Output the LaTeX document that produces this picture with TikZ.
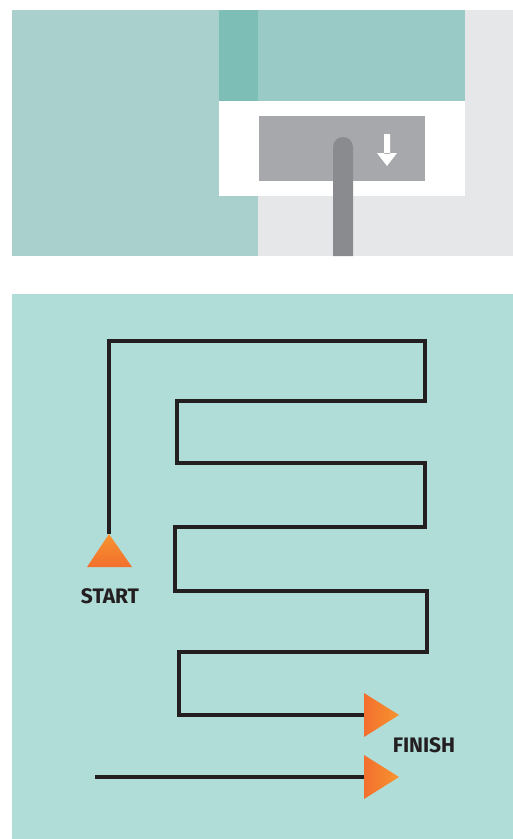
\documentclass[tikz,border=0pt]{standalone}
\usepackage{fontspec}
\setmainfont{Fira Sans}
\usetikzlibrary{calc}
\definecolor{tealA}{HTML}{AAD0CD}
\definecolor{tealB}{HTML}{7DBFB7}
\definecolor{tealC}{HTML}{9ACAC6}
\definecolor{greyBg}{HTML}{E6E7E9}
\definecolor{greyRect}{HTML}{A7A8AB}
\definecolor{greyHandle}{HTML}{8A8B8F}
\definecolor{mazeBg}{HTML}{B0DDD8}
\definecolor{orDark}{HTML}{F26F2E}
\definecolor{orLight}{HTML}{F7942F}
\definecolor{ink}{HTML}{231F20}
\tikzset{
  mazeline/.style={draw=ink, line width=3.4pt, line join=miter},
  lbl/.style={font=\bfseries\fontsize{21}{24}\selectfont, text=ink, inner sep=0pt},
}
\begin{document}
\begin{tikzpicture}[x=1pt,y=-1pt]
\useasboundingbox (0,0) rectangle (513,839);
\fill[white] (0,0) rectangle (513,839);
% top panel
\fill[greyBg] (12,10) rectangle (513,256);
\fill[tealA] (12,10) rectangle (258,256);
\fill[tealC] (258,10) rectangle (465,101);
\fill[tealB] (219,10) rectangle (258,101);
\fill[white] (219,101) rectangle (465,196);
\fill[greyRect] (259,116) rectangle (425,181);
\fill[greyHandle] (333,256) -- (333,147) arc[start angle=180,end angle=360,radius=10] -- (353,256) -- cycle;
\fill[white] (384,134) rectangle (390,154) (377,153) -- (397,153) -- (387,166) -- cycle;
% bottom panel
\fill[mazeBg] (12,294) rectangle (513,839);
% maze
\coordinate (s) at (109,534);
\coordinate (f) at (365,715);
\draw[mazeline] (s) -- (109,341) -- (425,341) -- (425,401) -- (177,401) -- (177,463)
  -- (425,463) -- (425,527) -- (175,527) -- (175,591) -- (427,591) -- (427,652)
  -- (179,652) -- (179,715) -- (f);
\coordinate (b0) at (95,777);
\coordinate (b1) at (365,777);
\draw[mazeline] (b0) -- (b1);
% triangles
\shade[top color=orLight, bottom color=orDark] (109,534) -- (132,567) -- (87,567) -- cycle;
\shade[left color=orDark, right color=orLight] (364,693) -- (399,715) -- (364,737) -- cycle;
\shade[left color=orDark, right color=orLight] (364,755) -- (399,777) -- (364,799) -- cycle;
% labels
\node[lbl] (start) at (110,596) {START};
\node[lbl] (finish) at (424,745) {FINISH};
\end{tikzpicture}
\end{document}
